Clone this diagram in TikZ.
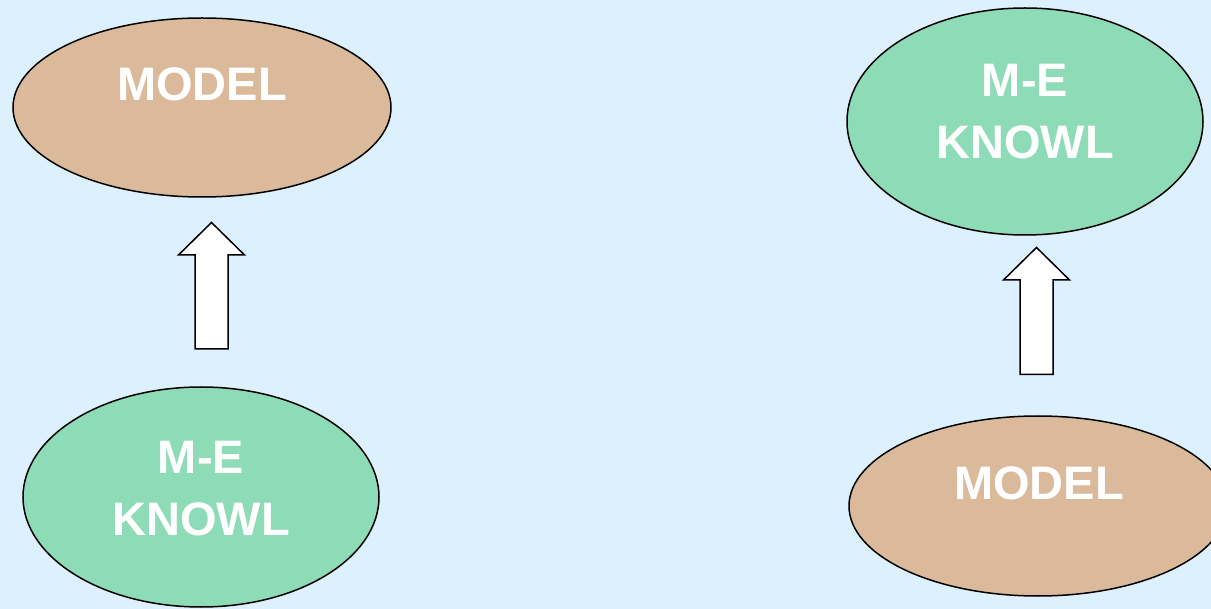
\documentclass[tikz,border=0pt]{standalone}
\usepackage{fontspec}
\setmainfont{Liberation Sans}
\usetikzlibrary{shapes.geometric}
\definecolor{bgblue}{HTML}{DDF0FE}
\definecolor{tanfill}{HTML}{DBBA9C}
\definecolor{greenfill}{HTML}{8EDBB8}
\tikzset{
  ovalbox/.style={ellipse, draw=black, line width=1.5pt, inner sep=0pt},
  modeloval/.style={ovalbox, fill=tanfill},
  knowoval/.style={ovalbox, fill=greenfill},
  ovaltext/.style={text=white, font=\fontsize{47}{62}\selectfont\bfseries, align=center, inner sep=0pt},
  blockarrow/.style={draw=black, fill=white, line width=1.5pt, line join=miter}
}
\begin{document}
\begin{tikzpicture}[x=1pt,y=-1pt]
\fill[bgblue] (0,0) rectangle (1211,609);
\useasboundingbox (0,0) rectangle (1211,609);
% left column
\node[modeloval, minimum width=378pt, minimum height=179pt] (m1) at (202,107.5) {};
\node[ovaltext] (m1t) at (202,84) {MODEL};
\node[knowoval, minimum width=356pt, minimum height=220pt] (k1) at (201,497) {};
\node[ovaltext] (k1t) at (201,489) {M-E\\KNOWL};
\coordinate (a1) at (211.5,222.5);
\draw[blockarrow] (a1) -- ++(33,32.5) -- ++(-16.5,0) -- ++(0,94) -- ++(-33,0) -- ++(0,-94) -- ++(-16.5,0) -- cycle;
% right column
\node[knowoval, minimum width=356pt, minimum height=227pt] (k2) at (1025,121.5) {};
\node[ovaltext] (k2t) at (1025,112) {M-E\\KNOWL};
\node[modeloval, minimum width=378pt, minimum height=180pt] (m2) at (1038,506) {};
\node[ovaltext] (m2t) at (1039,483) {MODEL};
\coordinate (a2) at (1036.5,247.5);
\draw[blockarrow] (a2) -- ++(33,32.5) -- ++(-16.5,0) -- ++(0,94.5) -- ++(-33,0) -- ++(0,-94.5) -- ++(-16.5,0) -- cycle;
\end{tikzpicture}
\end{document}
